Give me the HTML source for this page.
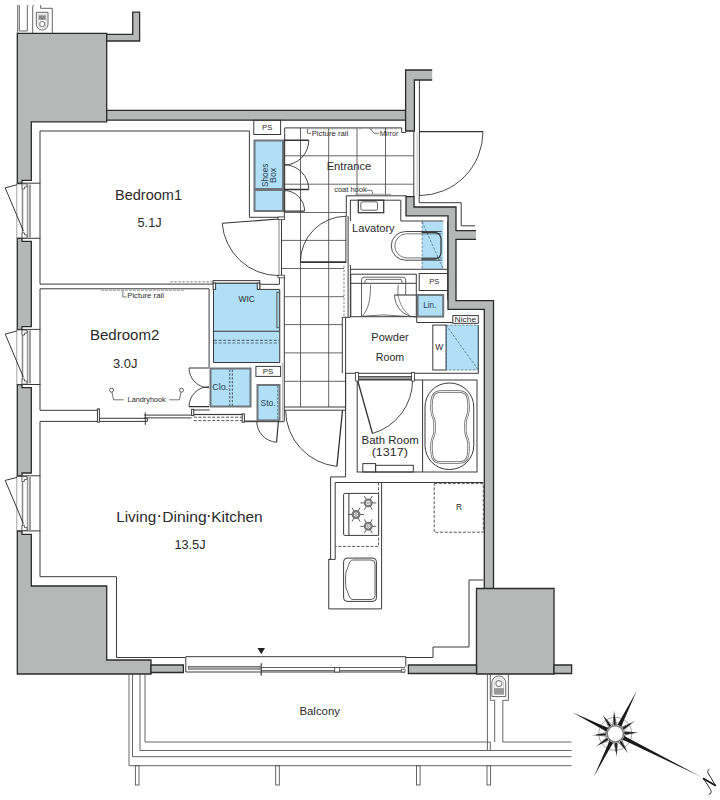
<!DOCTYPE html>
<html><head><meta charset="utf-8">
<style>
html,body{margin:0;padding:0;background:#fff;width:720px;height:800px;overflow:hidden}
svg{display:block}
text{font-family:"Liberation Sans",sans-serif;fill:#2a2a2a}
</style></head>
<body>
<svg width="720" height="800" viewBox="0 0 720 800">
<!-- WALLS -->
<g id="walls" fill="#b6b8b7" stroke="#2a2a2a" stroke-width="1.3" stroke-linejoin="miter">
<path d="M17.3,33.3H106.7V121.8H31.3V180.4H22V183.5H17.3Z"/>
<path d="M17.3,238.4H22V241.4H31.3V326.6H22V329.7H17.3Z"/>
<path d="M17.3,384.6H22V387.6H31.3V473H22V476.1H17.3Z"/>
<path d="M17.3,531.1H22V534.3H31.3V586H106.7V660H151V674H17.3Z"/>
<path d="M106.7,34.4H132.7V12.2H139.6V41H106.7Z"/>
<path d="M106.7,110.4H405.6V120.2H106.7Z"/>
<path d="M405.6,70H432.2V80H414.4V131H405.6Z" stroke="none"/>
<path d="M432.2,70H405.6V131H414.4V80H432.2" fill="none"/>
<path d="M406,196.6H414V207H456V230.7H476V239.4H456V300.6H493.5V588.5H484.3V309.4H448V215.8H406Z" stroke="none"/>
<path d="M476,230.7H456V207H414V196.6H406V215.8H448V309.4H484.3V588.5M493.5,588.5V300.6H456V239.4H476" fill="none"/>
<path d="M476.5,588.5H554V674H476.5Z"/>
<path d="M408.4,665H476.5V673.5H408.4Z"/>
<path d="M554,665H571.6V673.5H554Z"/>
<path d="M151,665H183.4V672.5H151Z"/>
</g>

<!-- BLUE FILLS -->
<g id="blue" fill="#b0dff6">
<rect x="254.5" y="140.5" width="28.5" height="70.5" stroke="#6f777c" stroke-width="2"/>
<path d="M254.5,189.5H283" stroke="#6f777c" stroke-width="3"/>
<path d="M213.5,283.1H259.75V289.4H279.75V362.5H213.5Z" stroke="#3a3a3a" stroke-width="1"/>
<rect x="210.5" y="368.5" width="40" height="38" stroke="#6f777c" stroke-width="2"/>
<rect x="257.5" y="385" width="22" height="35.4" stroke="#6f777c" stroke-width="2"/>
<rect x="417.6" y="295" width="25.6" height="21.6" stroke="#6f777c" stroke-width="2"/>
<rect x="422.2" y="221.8" width="21.1" height="47.5"/>
<rect x="446.1" y="325.1" width="32.2" height="44.9"/>
</g>
<!-- THIN ROOM LINES -->
<g id="lines" fill="none" stroke="#3a3a3a" stroke-width="1">
<!-- left inner line -->
<path d="M40,131V284.1M40,288.8V410.3M40,421.4V576.7H116.5V657.5H185.5"/>
<!-- bedroom1 -->
<path d="M40,131H249.4V217.3H283.7"/>
<path d="M40,284.1H213.5"/>
<!-- bedroom2 -->
<path d="M40,288.8H209.1V367.6"/>
<path d="M40,410.3H97.4M40,421.4H97.4"/>
<path d="M193,410H209.7"/>
</g>

<!-- HALL / ENTRANCE -->
<g id="tiles" fill="none" stroke="#555" stroke-width="0.9">
<path d="M300.5,128V407M328.7,128V407M357,128V195.6M385.5,128V195.6"/>
<path d="M284.3,155.8H413.3M284.3,184.2H413.3M284.3,212.5H346M281.5,240.4H346M281.5,268.5H344M284.3,296.7H344M284.3,324.6H342.3M284.3,352.9H342.3M284.3,381.3H345.6"/>
</g>
<g id="lines2" fill="none" stroke="#3a3a3a" stroke-width="1">
<!-- PS box -->
<rect x="253.8" y="120.3" width="26.8" height="14.2"/>
<!-- entrance outline -->
<path d="M284.7,211V127.9H401.7V132.5H405.8"/>
<path d="M413.8,132V196M419.4,132V196M419.4,80V131.5"/>
<path d="M417.2,132V196" stroke="#999" stroke-width="0.6"/>
<path d="M346.3,195.8H406.7"/>
<!-- hall left wall double -->
<path d="M279,219.6V275.2" stroke="#999" stroke-width="1.2"/>
<path d="M281.5,219.6V275.2"/>
<path d="M284.3,275.6V421.1"/>
<path d="M282.7,363V421.1" stroke="#888" stroke-width="0.7"/>
<path d="M244.4,421.7H284.4"/>
<path d="M284.3,139.6V217.3"/>
<path d="M259.75,284.3H279.4V277"/>
<rect x="278" y="217" width="6.5" height="2.6" fill="#fff" stroke-width="0.8"/>
<rect x="278" y="275.2" width="6.5" height="2.6" fill="#fff" stroke-width="0.8"/>
<!-- lavatory walls -->
<path d="M345.9,216V262M348.1,216V317M350.4,200V221"/>
<path d="M350.4,265V317"/>
<path d="M350.3,200.2H400.8V221H443.3"/>
<path d="M346.3,195.8V216"/>
<path d="M419.2,196V202.7H461.2V225.8H475.2"/>
<!-- lavatory bottom/ right -->
<path d="M350.4,269.3H447.6"/>
<path d="M447.6,221V300"/>
<rect x="255.9" y="366.4" width="24.7" height="10"/>
<path d="M344,265.6V316.8" stroke="#888" stroke-dasharray="2.5,1.5"/>
<!-- PS right box -->
<rect x="419.2" y="273.5" width="28.4" height="17"/>
<!-- powder room -->
<path d="M342.3,317.3V373.2M345.6,317.3V373.2"/>
<path d="M342.3,317.3H350.4"/>
<path d="M345.6,373.3H478.3M478.3,325.1V373.3"/>
<path d="M416.7,316.7V322.5H452.8"/>
<rect x="432.8" y="325.1" width="13.3" height="44.9"/>
<rect x="452.8" y="315.6" width="25.5" height="7.7"/>
<!-- hall bottom threshold -->
<path d="M284.3,407H345.6M284.3,410.2H345.6M345.6,373.3V410"/>
<!-- bath -->
<rect x="357.2" y="380" width="119.8" height="92"/>
<path d="M422.6,380V472"/>
<rect x="362.8" y="463.6" width="12.8" height="8.4"/>
<rect x="375.6" y="465.3" width="37.7" height="6.7"/>
<!-- bedroom2 bottom / clo -->
<path d="M194,414.6H242.6"/>
<!-- kitchen -->
<path d="M345.6,373.3V476.9H330.6V559.4H328.75V608.9H381.6V482.5"/>
<path d="M335.2,482.5H483.3M335.2,482.5V559.4H328.75"/>
<path d="M469,580H483.3M469,580V647H433V657.5H406"/>
</g>


<!-- WINDOWS -->

<g transform="translate(0,180.4)">
<path d="M16.8,2.8H40.4M16.8,57.9H40.4" fill="none" stroke="#3a3a3a" stroke-width="1"/>
<path d="M16.8,2.8V57.9" fill="none" stroke="#8a8a8a" stroke-width="0.8"/>
<path d="M22.5,4V57M27.6,4V57M30,4V57" fill="none" stroke="#9a9a9a" stroke-width="1.6"/>
<path d="M22.5,4V57M30,4V57" fill="none" stroke="#777" stroke-width="0.5"/>
<path d="M22,3.5h5v3h-2.5v2h-2.5zM22,57.5h5v-3h-2.5v-2h-2.5z" fill="#fff" stroke="#444" stroke-width="0.8"/>
<path d="M17,4.4L5.2,7.4L23.4,50.6" fill="none" stroke="#222" stroke-width="0.9"/>
</g>
<g transform="translate(0,326.6)">
<path d="M16.8,2.8H40.4M16.8,57.9H40.4" fill="none" stroke="#3a3a3a" stroke-width="1"/>
<path d="M16.8,2.8V57.9" fill="none" stroke="#8a8a8a" stroke-width="0.8"/>
<path d="M22.5,4V57M27.6,4V57M30,4V57" fill="none" stroke="#9a9a9a" stroke-width="1.6"/>
<path d="M22.5,4V57M30,4V57" fill="none" stroke="#777" stroke-width="0.5"/>
<path d="M22,3.5h5v3h-2.5v2h-2.5zM22,57.5h5v-3h-2.5v-2h-2.5z" fill="#fff" stroke="#444" stroke-width="0.8"/>
<path d="M17,4.4L5.2,7.4L23.4,50.6" fill="none" stroke="#222" stroke-width="0.9"/>
</g>
<g transform="translate(0,473)">
<path d="M16.8,2.8H40.4M16.8,57.9H40.4" fill="none" stroke="#3a3a3a" stroke-width="1"/>
<path d="M16.8,2.8V57.9" fill="none" stroke="#8a8a8a" stroke-width="0.8"/>
<path d="M22.5,4V57M27.6,4V57M30,4V57" fill="none" stroke="#9a9a9a" stroke-width="1.6"/>
<path d="M22.5,4V57M30,4V57" fill="none" stroke="#777" stroke-width="0.5"/>
<path d="M22,3.5h5v3h-2.5v2h-2.5zM22,57.5h5v-3h-2.5v-2h-2.5z" fill="#fff" stroke="#444" stroke-width="0.8"/>
<path d="M17,4.4L5.2,7.4L23.4,50.6" fill="none" stroke="#222" stroke-width="0.9"/>
</g>
<!-- DOORS -->
<g id="doors" fill="none" stroke="#333" stroke-width="0.9">
<path d="M222.2,223.3A56.5,56.5 0 0 0 278.5,275.6"/>
<path d="M278.5,219L222.2,223.3" stroke-width="1.1"/>
<path d="M308.8,140.3A24.8,24.8 0 0 1 284,165.1M284,164.7A24.8,24.8 0 0 1 308.8,189.5M284,190.5A20.6,20.6 0 0 1 304.6,211.1"/>
<path d="M284,140.3H308.8M284,189.5H308.8M284,211.1H304.6" stroke-width="1.4"/>
<path d="M483,131.6A64,64 0 0 1 419,195.6"/>
<path d="M419,131.6H483" stroke-width="1.2"/>
<path d="M300.4,262.1A45.85,45.85 0 0 1 346.25,216.25"/>
<path d="M300.4,262.1H346.25" stroke-width="1.6"/>
<path d="M189,368A20,20 0 0 0 209,387.8M209,386.7A20,20 0 0 0 189,406.7"/>
<path d="M209,368H189M209,406.7H189" stroke-width="1.2"/>
<path d="M256.7,421A21.4,21.4 0 0 0 276.6,442.3"/>
<path d="M278.4,421L276.6,442.3" stroke-width="1.2"/>
<path d="M285.6,410.4A56.9,56.9 0 0 0 336.9,466.4"/>
<path d="M342.5,410.4L336.9,466.4" stroke-width="1.3"/>
<path d="M372.5,433.5A55.6,55.6 0 0 0 412.6,380"/>
<path d="M357.5,380L372.5,433.5" stroke-width="1.3"/>
<rect x="357.5" y="376.6" width="55" height="3" fill="#999" stroke-width="0.8"/>
<rect x="355.6" y="372.5" width="3" height="8.5" fill="#fff" stroke-width="0.8"/>
<rect x="411.4" y="372.5" width="3" height="8.5" fill="#fff" stroke-width="0.8"/>
</g>

<!-- DETAILS -->
<g id="details" fill="none" stroke="#3a3a3a" stroke-width="1">
<!-- WIC -->
<rect x="213.1" y="280.6" width="46.65" height="2.5" fill="#fff"/>
<rect x="213.1" y="283.1" width="2.5" height="6.3" fill="#fff"/>
<rect x="257.25" y="283.1" width="2.5" height="6.3" fill="#fff"/>
<rect x="276.9" y="292.25" width="2.5" height="35.5" stroke="#555"/>
<path d="M213.5,331.25H279.75"/>
<path d="M214,340.3H279.5M214,343H279.5" stroke="#5b6f7a" stroke-width="1.2" stroke-dasharray="3,1.6"/>
<!-- Clo dashed -->
<path d="M229.7,369.5V406M232.4,369.5V406" stroke="#5b6f7a" stroke-width="1.2" stroke-dasharray="2.4,1.4"/>
<path d="M277.6,386V419.5" stroke="#5d6b73" stroke-width="0.8" stroke-dasharray="2.4,1.4"/>
<!-- bedroom2 sliding door -->
<rect x="97.4" y="408.9" width="2" height="13.2" fill="#fff"/>
<rect x="191.6" y="409.3" width="2.2" height="6.3" fill="#fff"/>
<rect x="242.2" y="413.9" width="2.2" height="8.3" fill="#fff"/>
<path d="M99.4,418.3H147.4V421.4H99.4"/>
<path d="M143.9,415.1H191.6M143.9,417.9H191.6"/>
<path d="M145.3,412.4V424.9"/>
<path d="M193.8,414.4H242.2"/>
<path d="M193.8,417.2H242.2M193.8,420.6H242.2" stroke-dasharray="3,1.6" stroke="#555"/>
<path d="M244.4,421H256.7"/>
<!-- picture rails -->
<path d="M170.3,281.8H212.5" stroke="#666" stroke-width="0.8" stroke-dasharray="2.5,1.5"/>
<path d="M101,290.3H185" stroke="#999" stroke-width="0.9" stroke-dasharray="3,1"/>
<path d="M122.9,290.5V297H126.5" stroke-width="0.7"/>
<path d="M307,128.8H362M370,128.8H397" stroke="#999" stroke-width="0.9" stroke-dasharray="3,1"/>
<path d="M307.5,129.2V133.3H311M370,128.3L374,133.3H379" stroke-width="0.7"/>
<path d="M367,190.3H371.5L373,194.2" stroke-width="0.7"/>
<path d="M355,194.2H391" stroke="#999" stroke-width="1.1"/>
<!-- landry hooks -->
<circle cx="111.5" cy="390.2" r="2" stroke-width="0.8"/>
<circle cx="181.5" cy="390.2" r="2" stroke-width="0.8"/>
<path d="M112,392.2L113.5,399.8H123.7M181,392.2L179.4,399.8H169.2" stroke-width="0.7"/>
<!-- lavatory sink -->
<rect x="358.3" y="200.2" width="25.4" height="12.5" stroke-width="1.3"/>
<rect x="360.8" y="201.8" width="16.7" height="8.4" rx="1.5" stroke-width="0.8"/>
<!-- toilet blue dashes -->
<path d="M422.2,221.8V269.3M422.2,221.8L443.3,269.3" stroke="#4c6f82" stroke-width="0.8" stroke-dasharray="2.5,1.5"/>
<!-- washer pan -->
<rect x="446.1" y="325.1" width="32.2" height="44.9" stroke="#4c6f82" stroke-width="0.8" stroke-dasharray="2.5,1.5"/>
<path d="M446.1,325.1L478.3,370" stroke="#4c6f82" stroke-width="0.8" stroke-dasharray="2.5,1.5"/>
<!-- toilet -->
<path d="M441.7,231.5H405.6A14.35,14.35 0 0 0 405.6,260.2H441.7" stroke-width="0.9"/>
<path d="M441.7,233.8H405.8A12.1,12.1 0 0 0 405.8,257.9H441.7" stroke-width="0.7"/>
<path d="M421.5,232.3H434.5A6.5,6.5 0 0 1 441,238.8V252.5A6.5,6.5 0 0 1 434.5,259H421.5" stroke-width="1.3"/>
<!-- stove -->
<rect x="343.6" y="493.4" width="35" height="42" rx="1.2"/>
<path d="M348.9,493.4V535.4"/>
<!-- kitchen sink -->
<rect x="343.6" y="558.1" width="32.8" height="43.3" rx="3.5"/>
<path d="M353,560H371A4,4 0 0 1 375,564V595.5A4,4 0 0 1 371,599.5H353C349,599.5 349,594 346.3,589C345.3,587 345.3,573 346.3,571C349,566 349,560 353,560Z" stroke-width="0.8"/>
<!-- fridge -->
<rect x="434.2" y="483.6" width="49.1" height="48.6" stroke="#555" stroke-dasharray="3,1.6"/>
<!-- stove dashed counter -->
<path d="M378.6,482.5V546.4H335.2" stroke="#555" stroke-dasharray="3,1.6"/>
<!-- bathtub -->
<rect x="425" y="383" width="48.75" height="86.5" rx="24" ry="24"/>
<path d="M441,391.5H459Q467,391.5 468,399C469,406 469,413 466.5,418C465,421 465,433 466.5,436C469,441 469,448 468,455Q467,462.5 459,462.5H441Q433,462.5 432,455C431,448 431,441 433.5,436C435,433 435,421 433.5,418C431,413 431,406 432,399Q433,391.5 441,391.5Z" stroke-width="2.4" stroke="#666"/>
<path d="M441,391.5H459Q467,391.5 468,399C469,406 469,413 466.5,418C465,421 465,433 466.5,436C469,441 469,448 468,455Q467,462.5 459,462.5H441Q433,462.5 432,455C431,448 431,441 433.5,436C435,433 435,421 433.5,418C431,413 431,406 432,399Q433,391.5 441,391.5Z" stroke-width="0.9" stroke="#fff"/>
<!-- powder vanity -->
<rect x="350.8" y="274.2" width="65.5" height="42.5"/>
<path d="M350.8,283.3H416.3"/>
<path d="M361.5,316V280Q361.5,277.2 364.5,277.2H402.7Q405.7,277.2 405.7,280V295" stroke-width="0.8"/>
<path d="M365,283.2V281Q365,279.4 367,279.4H400Q402,279.4 402,281V283.2" stroke-width="0.7"/>
<path d="M370.5,284.7C370.5,300 368.5,309 362.5,315.8" stroke-width="0.7"/>
<path d="M398.2,284.7C398,288 397.8,292 398,295" stroke-width="0.7"/>
<path d="M361.5,316.3Q383,313.5 405.7,316.3" stroke-width="0.7"/>
<path d="M394.5,295H416.3" stroke-width="1.1"/>
<path d="M394.5,295C395,307 403,316.5 416,317" stroke-width="0.8"/>
<path d="M398,295C399.5,304 404,311 409,315" stroke-width="0.6"/>
</g>
<!-- BALCONY DOOR -->
<g fill="none" stroke="#3a3a3a" stroke-width="1">
<path d="M185.8,656.7H405.8V666.7M185.8,656.7V672H405"/>
<rect x="188.3" y="666.3" width="71.7" height="2.9" fill="#aaa" stroke="#555" stroke-width="0.7"/>
<path d="M260.8,667.5H405M260.8,670.6H405" stroke-width="0.8"/>
<path d="M261.2,663.3V675.8" stroke-width="1.2"/>
<rect x="334.7" y="667.5" width="5" height="4.5" fill="#fff" stroke-width="0.8"/>
<rect x="401.3" y="669.2" width="3.7" height="2.8" fill="#fff" stroke-width="0.7"/>
<path d="M257.5,648H265L261.25,654.2Z" fill="#222" stroke="none"/>
</g>
<!-- BALCONY -->
<g fill="none" stroke="#555" stroke-width="0.9">
<path d="M129,674V765.7H571.6"/>
<path d="M132.5,674V756.7H571.6"/>
<path d="M140,674V750.5H571.6"/>
<path d="M145,674V742H490.3"/>
<path d="M494.7,742V700.3H490.3V674M502.8,742V700.3H508.4V674M502.8,742H571.6"/>
<path d="M487.4,674V750.5"/>
<path d="M490.3,742V750.5"/>
<rect x="135.4" y="765.7" width="3.6" height="19.3"/>
<rect x="275.7" y="765.7" width="3.6" height="19.3"/>
<rect x="416.5" y="765.7" width="3.6" height="19.3"/>
<rect x="487" y="765.7" width="3.6" height="19.3"/>
</g>
<!-- meter box bottom -->
<g fill="none" stroke="#555" stroke-width="0.9">
<path d="M491.9,696.6V682.9A6.9,6.9 0 0 1 505.75,682.9V696.6Z"/>
<path d="M494.3,694.4V683A4.7,4.7 0 0 1 503.7,683V694.4Z" stroke="#999" stroke-width="0.5"/>
<rect x="494" y="688.1" width="10" height="6.3" fill="#999" stroke="none"/>
<circle cx="498.9" cy="683.6" r="3" fill="#fff" stroke="#888" stroke-width="1.1"/>
</g>
<!-- meter box top-left -->
<g fill="none" stroke="#555" stroke-width="0.9">
<path d="M17.7,5V33M19.3,5V31H27.3M27.3,31V8Q27.3,6 28,5M32.7,33V8Q32.7,6 33.4,5M40.7,5V8.3H52.3V33.3"/>
<path d="M36.3,12.3V24.2A5.85,5.85 0 0 0 48,24.2V12.3Z" stroke="#555" stroke-width="0.9"/>
<path d="M38.2,14.2V24A4,4 0 0 0 46.2,24V14.2Z" stroke="#999" stroke-width="0.5"/>
<rect x="38.7" y="15.3" width="7" height="4.6" fill="#8a8a8a" stroke="none"/>
<circle cx="42.2" cy="24" r="2.5" fill="#fff" stroke="#888" stroke-width="1.1"/>
</g>
<g id="burners"><path d="M370.80,502.90L376.30,502.90M369.55,505.07L372.30,509.83M367.05,505.07L364.30,509.83M365.80,502.90L360.30,502.90M367.05,500.73L364.30,495.97M369.55,500.73L372.30,495.97" stroke="#333" stroke-width="0.8" fill="none"/>
<circle cx="368.3" cy="502.9" r="3.4" fill="none" stroke="#777" stroke-width="2.2"/>
<circle cx="368.3" cy="502.9" r="1.1" fill="none" stroke="#555" stroke-width="0.6"/>
<path d="M358.50,514.50L364.00,514.50M357.25,516.67L360.00,521.43M354.75,516.67L352.00,521.43M353.50,514.50L348.00,514.50M354.75,512.33L352.00,507.57M357.25,512.33L360.00,507.57" stroke="#333" stroke-width="0.8" fill="none"/>
<circle cx="356" cy="514.5" r="3.4" fill="none" stroke="#777" stroke-width="2.2"/>
<circle cx="356" cy="514.5" r="1.1" fill="none" stroke="#555" stroke-width="0.6"/>
<path d="M370.80,526.30L376.30,526.30M369.55,528.47L372.30,533.23M367.05,528.47L364.30,533.23M365.80,526.30L360.30,526.30M367.05,524.13L364.30,519.37M369.55,524.13L372.30,519.37" stroke="#333" stroke-width="0.8" fill="none"/>
<circle cx="368.3" cy="526.3" r="3.4" fill="none" stroke="#777" stroke-width="2.2"/>
<circle cx="368.3" cy="526.3" r="1.1" fill="none" stroke="#555" stroke-width="0.6"/></g>
<g id="compass"><circle cx="615.3" cy="733.8" r="16.5" fill="none" stroke="#666" stroke-width="0.6"/>
<path d="M621.66,739.44L632.29,742.31M621.66,739.44L625.76,749.66M617.98,741.87L625.76,749.66M617.98,741.87L616.43,752.77M613.59,742.13L616.43,752.77M613.59,742.13L606.79,750.79M609.66,740.16L606.79,750.79M609.66,740.16L599.44,744.26M607.23,736.48L599.44,744.26M607.23,736.48L596.33,734.93M606.97,732.09L596.33,734.93M606.97,732.09L598.31,725.29M608.94,728.16L598.31,725.29M608.94,728.16L604.84,717.94M612.62,725.73L604.84,717.94M612.62,725.73L614.17,714.83M617.01,725.47L614.17,714.83M617.01,725.47L623.81,716.81M620.94,727.44L623.81,716.81M620.94,727.44L631.16,723.34M623.37,731.12L631.16,723.34M623.37,731.12L634.27,732.67M623.63,735.51L634.27,732.67M623.63,735.51L632.29,742.31" fill="none" stroke="#333" stroke-width="0.6"/>
<path d="M622.45,739.62L700.99,776.71L624.24,736.04ZM609.48,740.95L593.71,776.91L613.06,742.74ZM608.15,727.98L572.19,712.21L606.36,731.56ZM621.12,726.65L636.69,691.09L617.54,724.86ZM624.36,734.46L638.76,732.41L624.21,732.07ZM619.25,741.97L628.24,753.42L621.26,740.65ZM614.64,742.86L616.69,757.26L617.03,742.71ZM607.13,737.75L595.68,746.74L608.45,739.76ZM606.24,733.14L591.84,735.19L606.39,735.53ZM611.35,725.63L602.36,714.18L609.34,726.95ZM615.96,724.74L613.91,710.34L613.57,724.89ZM623.47,729.85L634.92,720.86L622.15,727.84Z" fill="#1a1a1a"/>
<circle cx="615.3" cy="733.8" r="8.1" fill="#fff" stroke="#777" stroke-width="1.5"/>
<path d="M709.5,769.2C708,769.5 707.3,771 708,773L715.6,785.6M703.5,778.6L710.5,789.5C711.8,792 711.2,794.3 708.6,794.3" fill="none" stroke="#1a1a1a" stroke-width="0.9"/>
<path d="M703,778.2L715.8,785.8" fill="none" stroke="#1a1a1a" stroke-width="1.9"/></g>
<!-- TEXTS -->
<g id="texts">
<text x="115" y="200" font-size="15" textLength="67" lengthAdjust="spacingAndGlyphs">Bedroom1</text>
<text x="137.5" y="227" font-size="12" textLength="24.2" lengthAdjust="spacingAndGlyphs">5.1J</text>
<text x="90" y="340.3" font-size="15" textLength="69.3" lengthAdjust="spacingAndGlyphs">Bedroom2</text>
<text x="112.9" y="367.5" font-size="12" textLength="24.5" lengthAdjust="spacingAndGlyphs">3.0J</text>
<text x="116.2" y="521.6" font-size="15" textLength="40" lengthAdjust="spacingAndGlyphs">Living</text>
<circle cx="159.3" cy="516.1" r="1.1" fill="#2a2a2a"/>
<text x="162.3" y="521.6" font-size="15" textLength="44.3" lengthAdjust="spacingAndGlyphs">Dining</text>
<circle cx="208.8" cy="516.1" r="1.1" fill="#2a2a2a"/>
<text x="211.2" y="521.6" font-size="15" textLength="51.5" lengthAdjust="spacingAndGlyphs">Kitchen</text>
<text x="174.4" y="549.3" font-size="12.5" textLength="31.2" lengthAdjust="spacingAndGlyphs">13.5J</text>
<text x="326.7" y="170.3" font-size="11" textLength="44.6" lengthAdjust="spacingAndGlyphs">Entrance</text>
<text x="352" y="231.8" font-size="10.8" textLength="42.7" lengthAdjust="spacingAndGlyphs">Lavatory</text>
<text x="371.3" y="341.3" font-size="11" textLength="37.4" lengthAdjust="spacingAndGlyphs">Powder</text>
<text x="375.8" y="360.8" font-size="11" textLength="28.4" lengthAdjust="spacingAndGlyphs">Room</text>
<text x="361.6" y="444.4" font-size="11" textLength="57.2" lengthAdjust="spacingAndGlyphs">Bath Room</text>
<text x="371.7" y="455.6" font-size="11" textLength="36.1" lengthAdjust="spacingAndGlyphs">(1317)</text>
<text x="311.7" y="135.8" font-size="7.6" textLength="36.6" lengthAdjust="spacingAndGlyphs">Picture rail</text>
<text x="379.7" y="135.8" font-size="7.6" textLength="18.6" lengthAdjust="spacingAndGlyphs">Mirror</text>
<text x="334.2" y="192" font-size="7.6" textLength="32.5" lengthAdjust="spacingAndGlyphs">coat hook</text>
<text x="127.2" y="297.5" font-size="7.6" textLength="36.8" lengthAdjust="spacingAndGlyphs">Picture rail</text>
<text x="127.6" y="401.6" font-size="7.6" textLength="38.1" lengthAdjust="spacingAndGlyphs">Landryhook</text>
<text x="262" y="130" font-size="7.8" textLength="10.3" lengthAdjust="spacingAndGlyphs">PS</text>
<text x="429.2" y="284.2" font-size="7.4" textLength="10" lengthAdjust="spacingAndGlyphs">PS</text>
<text x="262.8" y="374.4" font-size="7.4" textLength="10.5" lengthAdjust="spacingAndGlyphs">PS</text>
<text x="454.6" y="321.8" font-size="7" textLength="21.5" lengthAdjust="spacingAndGlyphs">Niche</text>
<text x="435.3" y="350.3" font-size="8.4" textLength="8" lengthAdjust="spacingAndGlyphs">W</text>
<text x="238.5" y="301.5" font-size="8.2" textLength="16.25" lengthAdjust="spacingAndGlyphs">WIC</text>
<text x="455.9" y="509.9" font-size="8.5" textLength="6" lengthAdjust="spacingAndGlyphs">R</text>
<text x="299.4" y="715" font-size="11.5" textLength="40.6" lengthAdjust="spacingAndGlyphs">Balcony</text>
<g style="fill:#2c4250">
<text style="fill:#2c4250" x="212.2" y="389.8" font-size="9" textLength="15.9" lengthAdjust="spacingAndGlyphs">Clo.</text>
<text style="fill:#2c4250" x="260.6" y="405.6" font-size="9" textLength="15" lengthAdjust="spacingAndGlyphs">Sto.</text>
<text style="fill:#2c4250" x="423.3" y="308" font-size="8.6" textLength="13" lengthAdjust="spacingAndGlyphs">Lin.</text>
<text style="fill:#2c4250" transform="translate(268.2,187) rotate(-90)" font-size="9.5" textLength="23.4" lengthAdjust="spacingAndGlyphs">Shoes</text>
<text style="fill:#2c4250" transform="translate(276,183) rotate(-90)" font-size="9.5" textLength="15.2" lengthAdjust="spacingAndGlyphs">Box</text>
</g>
</g>
</svg>
</body></html>
